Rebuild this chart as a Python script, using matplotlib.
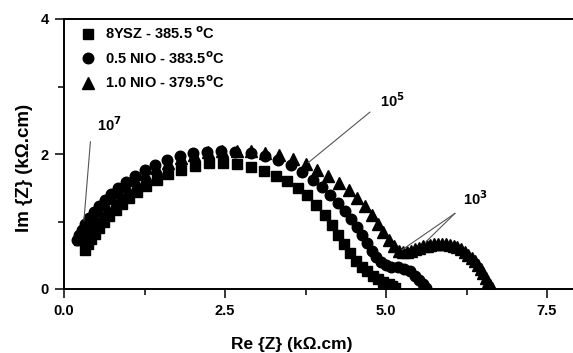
import matplotlib
matplotlib.use("Agg")
import matplotlib.pyplot as plt
from matplotlib.ticker import MultipleLocator

plt.rcParams['font.family'] = ['Liberation Sans', 'DejaVu Sans']
plt.rcParams['font.weight'] = 'bold'
plt.rcParams['mathtext.default'] = 'bf'

# 8YSZ - 385.5 C (squares)
ysz_re = [0.33, 0.37, 0.42, 0.48, 0.55, 0.62, 0.70, 0.80, 0.90, 1.01, 1.14, 1.28, 1.44,
          1.62, 1.82, 2.03, 2.25, 2.47, 2.69, 2.90, 3.10, 3.29, 3.46, 3.63, 3.78, 3.92,
          4.05, 4.16, 4.26, 4.35, 4.44, 4.53, 4.62, 4.71, 4.80, 4.88, 4.96, 5.04, 5.10, 5.14]
ysz_im = [0.58, 0.66, 0.74, 0.82, 0.90, 0.99, 1.08, 1.17, 1.26, 1.35, 1.44, 1.53, 1.62,
          1.70, 1.77, 1.82, 1.86, 1.87, 1.85, 1.81, 1.75, 1.68, 1.60, 1.50, 1.39, 1.25,
          1.10, 0.95, 0.80, 0.66, 0.53, 0.42, 0.33, 0.26, 0.20, 0.15, 0.11, 0.08, 0.05, 0.02]

# 0.5 NiO - 383.5 C (circles)
nio05_re = [0.20, 0.24, 0.28, 0.33, 0.39, 0.46, 0.54, 0.63, 0.73, 0.84, 0.96, 1.10, 1.25,
            1.42, 1.60, 1.80, 2.01, 2.22, 2.44, 2.66, 2.90, 3.12, 3.33, 3.52, 3.70, 3.86,
            4.00, 4.13, 4.25, 4.36, 4.46, 4.55, 4.63, 4.71, 4.78, 4.85, 4.92, 5.00, 5.08,
            5.18, 5.28, 5.37, 5.45, 5.52, 5.58, 5.62]
nio05_im = [0.72, 0.80, 0.88, 0.96, 1.05, 1.14, 1.23, 1.32, 1.41, 1.50, 1.59, 1.68, 1.76,
            1.84, 1.91, 1.97, 2.01, 2.03, 2.04, 2.03, 2.01, 1.97, 1.91, 1.83, 1.73, 1.62,
            1.51, 1.40, 1.28, 1.16, 1.04, 0.92, 0.80, 0.68, 0.57, 0.47, 0.40, 0.35, 0.33,
            0.32, 0.30, 0.26, 0.20, 0.13, 0.07, 0.02]

# 1.0 NiO - 379.5 C (triangles)
nio10_re = [0.25, 0.29, 0.34, 0.40, 0.47, 0.55, 0.64, 0.74, 0.85, 0.97, 1.11, 1.26, 1.43,
            1.61, 1.81, 2.02, 2.24, 2.46, 2.68, 2.90, 3.12, 3.34, 3.55, 3.75, 3.93, 4.10,
            4.27, 4.42, 4.55, 4.67, 4.78, 4.88, 4.96, 5.04, 5.12, 5.20, 5.27, 5.33, 5.39,
            5.45, 5.51, 5.57, 5.63, 5.69, 5.75, 5.81, 5.87, 5.93, 5.99, 6.05, 6.11, 6.17,
            6.23, 6.28, 6.33, 6.38, 6.43, 6.47, 6.51, 6.55, 6.58, 6.61, 6.64]
nio10_im = [0.74, 0.82, 0.90, 0.99, 1.08, 1.17, 1.26, 1.35, 1.44, 1.53, 1.62, 1.71, 1.79,
            1.87, 1.94, 1.99, 2.03, 2.05, 2.05, 2.04, 2.02, 1.98, 1.92, 1.85, 1.77, 1.67,
            1.57, 1.46, 1.35, 1.23, 1.10, 0.97, 0.84, 0.73, 0.63, 0.57, 0.55, 0.55, 0.57,
            0.59, 0.61, 0.63, 0.64, 0.65, 0.66, 0.66, 0.66, 0.66, 0.65, 0.64, 0.62, 0.59,
            0.55, 0.51, 0.46, 0.41, 0.35, 0.29, 0.23, 0.17, 0.11, 0.06, 0.02]

labels = ['8YSZ - 385.5 $^{o}$C', '0.5 NIO - 383.5$^{o}$C', '1.0 NIO - 379.5$^{o}$C']

# frequency marks: text, text position, line start, line ends
freq_marks = [
    ('10$^{7}$', (0.51, 2.34), (0.41, 2.18), [(0.31, 1.02)]),
    ('10$^{5}$', (4.91, 2.70), (4.75, 2.62), [(3.79, 1.87)]),
    ('10$^{3}$', (6.20, 1.24), (6.07, 1.12), [(5.25, 0.58), (5.62, 0.70)]),
]

fig = plt.figure(figsize=(5.73, 3.53), dpi=100)
ax = fig.add_axes([64 / 573, 64 / 353, 1 - 64 / 573, 270 / 353])

ax.plot(ysz_re, ysz_im, 's', color='black', markersize=7.0, label=labels[0])
ax.plot(nio05_re, nio05_im, 'o', color='black', markersize=7.6, label=labels[1])
ax.plot(nio10_re, nio10_im, '^', color='black', markersize=8.2, label=labels[2])

for txt, pos, st, targets in freq_marks:
    ax.text(pos[0], pos[1], txt, fontsize=10.5, fontweight='bold', ha='left', va='baseline')
    for tg in targets:
        ax.plot([st[0], tg[0]], [st[1], tg[1]], color='#555555', lw=0.8)

ax.set_xlim(0, 509 / 64.4)
ax.set_ylim(0, 4)
ax.xaxis.set_major_locator(MultipleLocator(2.5))
ax.xaxis.set_minor_locator(MultipleLocator(1.25))
ax.yaxis.set_major_locator(MultipleLocator(2))
ax.yaxis.set_minor_locator(MultipleLocator(1))
ax.tick_params(which='major', direction='out', length=6.5, width=1.1, labelsize=10.5, pad=4.5)
ax.tick_params(which='minor', direction='out', length=4.3, width=1.1)
ax.xaxis.set_major_formatter(plt.FuncFormatter(lambda v, p: f'{v:.1f}'))
ax.yaxis.set_major_formatter(plt.FuncFormatter(lambda v, p: f'{v:.0f}'))
ax.spines['right'].set_visible(False)
for s in ['left', 'bottom', 'top']:
    ax.spines[s].set_linewidth(1.4)

ax.set_xlabel('Re {Z} (k\u03a9.cm)', fontsize=12.5, fontweight='bold')
ax.set_ylabel('Im {Z} (k\u03a9.cm)', fontsize=13.5, fontweight='bold')
ax.xaxis.set_label_coords(0.448, -0.178)
ax.yaxis.set_label_coords(-0.061, 0.45)

ax.legend(loc='upper left', bbox_to_anchor=(0.033, 0.975), frameon=False, fontsize=10.5,
          handletextpad=0.66, labelspacing=0.52, borderaxespad=0, borderpad=0,
          handlelength=1.0)

fig.savefig('out.png', dpi=100)
